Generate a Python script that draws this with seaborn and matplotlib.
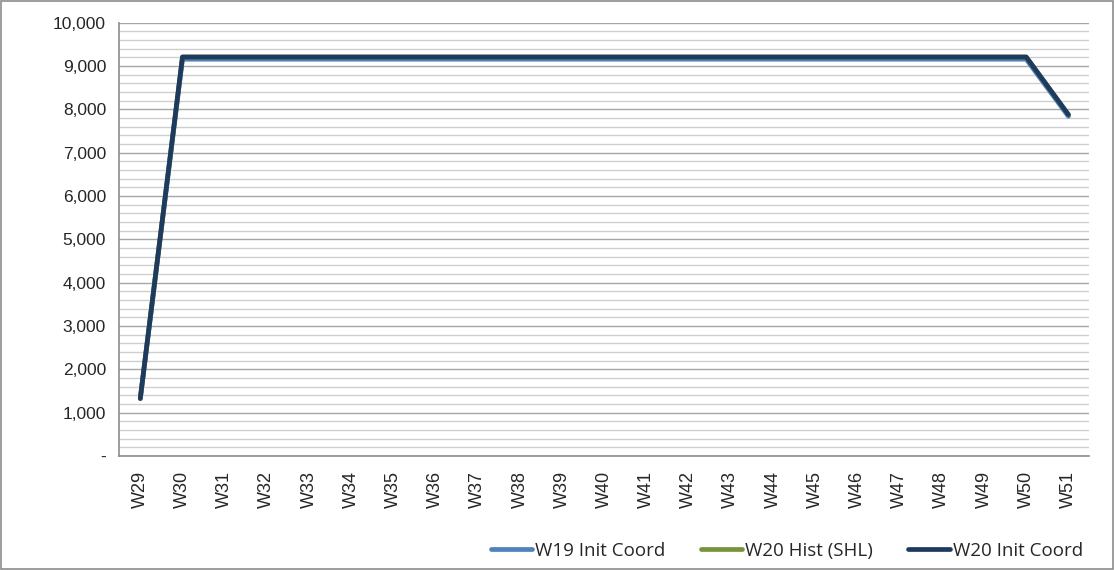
import numpy as np
import pandas as pd
import matplotlib.pyplot as plt
import seaborn as sns
from matplotlib.ticker import MultipleLocator, FuncFormatter
from matplotlib.patches import Rectangle

# weeks on the x axis
weeks = [f"W{n}" for n in range(29, 52)]

# series values
w19_init = [1320] + [9160] * 21 + [7840]
w20_hist = [1330] + [9210] * 21 + [7880]
w20_init = [1330] + [9210] * 21 + [7880]

series_names = ["W19 Init Coord", "W20 Hist (SHL)", "W20 Init Coord"]
series_colors = ["#4f81bd", "#77933c", "#1f3a5f"]

df = pd.DataFrame({
    "week": weeks * 3,
    "value": w19_init + w20_hist + w20_init,
    "series": np.repeat(series_names, len(weeks)),
})
df["x"] = df["week"].map({w: i for i, w in enumerate(weeks)})

sns.set_style("white")
plt.rcParams["font.family"] = ["Liberation Sans", "DejaVu Sans"]

fig = plt.figure(figsize=(11.14, 5.7), dpi=100)
ax = fig.add_axes([0.107, 0.2, 0.871, 0.76])

sns.lineplot(data=df, x="x", y="value", hue="series", hue_order=series_names,
             palette=series_colors, linewidth=3.4, ax=ax, legend=False,
             solid_capstyle="round", sort=False)

ax.set_xlim(-0.5, len(weeks) - 0.5)
ax.set_ylim(0, 10000)
ax.yaxis.set_major_locator(MultipleLocator(1000))
ax.yaxis.set_minor_locator(MultipleLocator(200))
ax.yaxis.set_major_formatter(FuncFormatter(lambda v, p: "-" if v == 0 else f"{int(v):,}"))
ax.grid(which="major", axis="y", color="#a6a6a6", linewidth=1.0)
ax.grid(which="minor", axis="y", color="#cfcfcf", linewidth=1.0)
ax.set_axisbelow(True)

ax.set_xticks(range(len(weeks)))
ax.set_xticklabels(weeks, rotation=90, fontsize=13)
ax.set_xticks(np.arange(-0.5, len(weeks)), minor=True)
ax.tick_params(axis="x", which="major", length=0, pad=11)
ax.tick_params(axis="x", which="minor", length=5, color="#8c8c8c", width=1)
ax.tick_params(axis="y", which="major", length=6, color="#8c8c8c", width=1, labelsize=12.5)
ax.tick_params(axis="y", which="minor", length=0)
ax.set_xlabel("")
ax.set_ylabel("")

for side in ["top", "right"]:
    ax.spines[side].set_visible(False)
for side in ["left", "bottom"]:
    ax.spines[side].set_color("#8c8c8c")
    ax.spines[side].set_linewidth(1.2)

handles = [plt.Line2D([], [], color=c, linewidth=3.4, solid_capstyle="round")
           for c in series_colors]
fig.legend(handles, series_names, loc="lower right", ncol=3, frameon=False,
           bbox_to_anchor=(0.987, -0.012), handlelength=2.2,
           handletextpad=0.15, columnspacing=1.9,
           prop={"family": ["Open Sans", "DejaVu Sans"], "size": 13.5})

fig.patches.append(Rectangle((0.001, 0.002), 0.998, 0.996, transform=fig.transFigure,
                             fill=False, edgecolor="#8c8c8c", linewidth=1.2))

fig.savefig("out.png", dpi=100)
